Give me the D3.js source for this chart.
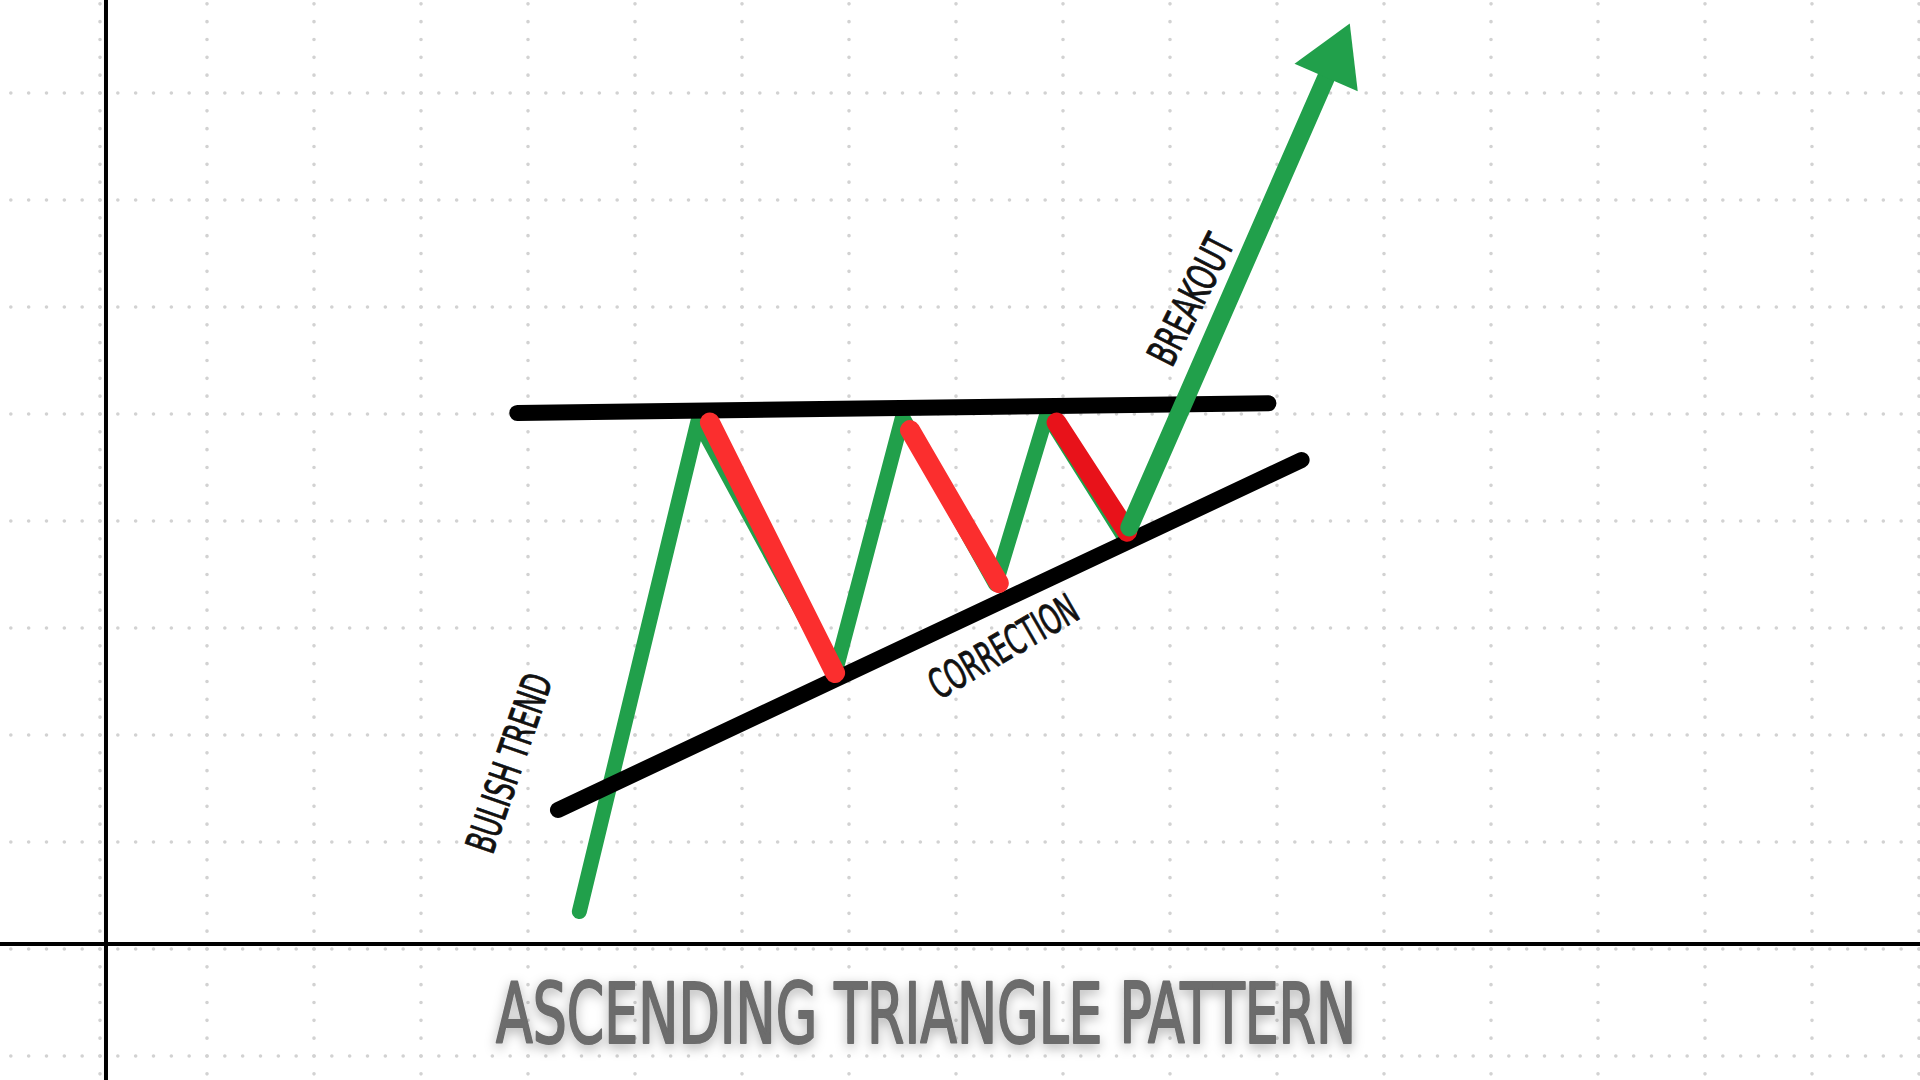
<!DOCTYPE html>
<html><head><meta charset="utf-8">
<script src="https://cdn.jsdelivr.net/npm/d3@7"></script>
<style>html,body{margin:0;padding:0;background:#fff;overflow:hidden}</style>
</head><body>
<svg id="chart" width="1920" height="1080"></svg>
<script>
// ---- data (grid units) ----
const gridXs = d3.range(-1, 19);
const gridYs = d3.range(-2, 11);
const axisOrigin = [0.056, 0.047];
const pricePath = [[4.48,0.35],[5.59,4.94],[6.87,2.58],[7.50,4.97],[8.37,3.41],[8.85,5.00],[9.56,3.87]];
const resistance = [[3.90,5.01],[10.92,5.10]];
const support = [[4.28,1.30],[11.23,4.57]];
const correctionFrom = [[5.70,4.92],[7.57,4.85],[8.94,4.92]];
const correctionTo = [[6.87,2.58],[8.40,3.42],[9.60,3.90]];
const breakout = [[9.62,3.94],[11.68,8.65]];
const labelTexts = ["BULISH TREND","CORRECTION","BREAKOUT"];
const labelPos = [[3.82,1.74],[8.44,2.83],[10.19,6.07]];
const labelAngles = [-71,-30,-63];
const labelLengths = [186,165,140];
const titleText = "ASCENDING TRIANGLE PATTERN";
const titlePos = [7.72,-0.88];

// ---- styles ----
const GREEN = "#21a04b", RED = "#fb2e2e", DARKRED = "#e8121a";
const correctionColors = [RED, RED, DARKRED];

const svg = d3.select("#chart");
const W = 1920, H = 1080, U = 107;
const x = d3.scaleLinear().domain([0,17]).range([100, 100+17*U]);
const y = d3.scaleLinear().domain([0,8]).range([949, 949-8*U]);

const defs = svg.append("defs");
const f = defs.append("filter").attr("id","tshadow").attr("x","-10%").attr("y","-40%").attr("width","120%").attr("height","180%");
f.append("feDropShadow").attr("dx",0).attr("dy",4).attr("stdDeviation",6).attr("flood-color","#000").attr("flood-opacity",0.3);

svg.append("rect").attr("width",W).attr("height",H).attr("fill","#fff");

// dotted grid
const grid = svg.append("g").attr("stroke","#d2d2d2").attr("stroke-width",3.6)
  .attr("stroke-linecap","round").attr("stroke-dasharray",`0 ${U/6}`);
grid.selectAll(".gv").data(gridXs).join("line")
  .attr("x1",d=>x(d)).attr("x2",d=>x(d)).attr("y1",y(10)).attr("y2",y(-2));
grid.selectAll(".gh").data(gridYs).join("line")
  .attr("y1",d=>y(d)).attr("y2",d=>y(d)).attr("x1",x(-1)).attr("x2",x(18));

// axes
svg.append("line").attr("x1",x(axisOrigin[0])).attr("x2",x(axisOrigin[0])).attr("y1",0).attr("y2",H)
  .attr("stroke","#000").attr("stroke-width",4);
svg.append("line").attr("y1",y(axisOrigin[1])).attr("y2",y(axisOrigin[1])).attr("x1",0).attr("x2",W)
  .attr("stroke","#000").attr("stroke-width",4);

const line = d3.line().x(d=>x(d[0])).y(d=>y(d[1]));

// green price path
svg.append("path").attr("d",line(pricePath)).attr("fill","none").attr("stroke",GREEN)
  .attr("stroke-width",15).attr("stroke-linecap","round").attr("stroke-linejoin","round");

// trend lines
[support, resistance].forEach(s=>{
  svg.append("path").attr("d",line(s)).attr("fill","none").attr("stroke","#000")
    .attr("stroke-width",16).attr("stroke-linecap","round");
});

// corrections
correctionFrom.forEach((p,i)=>{
  svg.append("path").attr("d",line([p,correctionTo[i]])).attr("fill","none")
    .attr("stroke",correctionColors[i]).attr("stroke-width",20).attr("stroke-linecap","round");
});

// breakout arrow
const p0 = [x(breakout[0][0]), y(breakout[0][1])];
const p1 = [x(breakout[1][0]), y(breakout[1][1])];
const dx = p1[0]-p0[0], dy = p1[1]-p0[1], len = Math.hypot(dx,dy);
const ux = dx/len, uy = dy/len, nx = -uy, ny = ux;
const headLen = 59, headHalf = 34.5;
const bc = [p1[0]-ux*headLen, p1[1]-uy*headLen];
svg.append("line").attr("x1",p0[0]).attr("y1",p0[1]).attr("x2",bc[0]+ux*6).attr("y2",bc[1]+uy*6)
  .attr("stroke",GREEN).attr("stroke-width",18).attr("stroke-linecap","round");
svg.append("path").attr("fill",GREEN)
  .attr("d",`M${p1[0]},${p1[1]}L${bc[0]+nx*headHalf},${bc[1]+ny*headHalf}L${bc[0]-nx*headHalf},${bc[1]-ny*headHalf}Z`);

// labels
const FONT = "'DejaVu Sans Condensed','Liberation Sans Narrow',sans-serif";
labelTexts.forEach((t,i)=>{
  const cx = x(labelPos[i][0]), cy = y(labelPos[i][1]);
  svg.append("text").attr("transform",`translate(${cx},${cy}) rotate(${labelAngles[i]})`)
    .attr("text-anchor","middle").attr("dy","0.36em")
    .attr("font-family",FONT).attr("font-size",41).attr("fill","#111")
    .attr("stroke","#111").attr("stroke-width",0.9).attr("stroke-linejoin","round")
    .attr("textLength",labelLengths[i]).attr("lengthAdjust","spacingAndGlyphs").text(t);
});

// title
svg.append("text").attr("x",x(titlePos[0])).attr("y",y(titlePos[1]))
  .attr("text-anchor","middle").attr("font-family",FONT).attr("font-size",84)
  .attr("fill","#6c6c6c").attr("stroke","#6c6c6c").attr("stroke-width",2.2).attr("stroke-linejoin","round")
  .attr("filter","url(#tshadow)")
  .attr("textLength",860).attr("lengthAdjust","spacingAndGlyphs").text(titleText);
</script>
</body></html>
